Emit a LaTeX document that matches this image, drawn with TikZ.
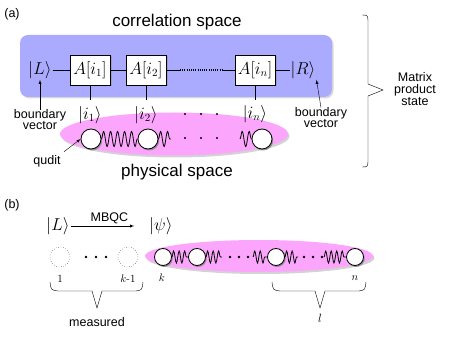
\documentclass[tikz,border=0pt]{standalone}
\usepackage[no-math]{fontspec}
\setsansfont{Liberation Sans}
\usepackage{amsmath,amssymb}
\usetikzlibrary{shadows,decorations.pathmorphing}

\definecolor{corrblue}{RGB}{170,170,255}
\definecolor{physpink}{RGB}{252,165,252}

\tikzset{
  lbl/.style={font=\sffamily\fontsize{12.5}{14}\selectfont, align=center},
  big/.style={font=\sffamily\fontsize{17}{20}\selectfont},
  ket/.style={font=\fontsize{16}{18}\selectfont, inner sep=1pt},
  mbox/.style={draw, fill=white, minimum width=40pt, minimum height=30pt, inner sep=1pt,
    font=\fontsize{16}{18}\selectfont, drop shadow={shadow xshift=1.5pt, shadow yshift=-1.5pt, opacity=0.35}},
  qudit/.style={draw, thick, circle, fill=white, minimum size=20pt, inner sep=0pt,
    drop shadow={shadow xshift=1.2pt, shadow yshift=-1.5pt, opacity=0.8}},
  qsmall/.style={qudit, minimum size=17pt},
  ghost/.style={draw, circle, dotted, minimum size=20pt, inner sep=0pt},
  wave/.style={decorate, thick, decoration={snake, amplitude=7.5pt, segment length=7pt}},
  swave/.style={wave, decoration={snake, amplitude=6pt, segment length=5.5pt}},
  idx/.style={font=\fontsize{11}{12}\selectfont, inner sep=0pt},
}

\begin{document}
\begin{tikzpicture}[x=1pt, y=-1pt, >=latex]
\useasboundingbox (0,0) rectangle (463,339);

% (a) correlation space
\node[lbl] at (12,14) {(a)};
\fill[corrblue, rounded corners=8pt, drop shadow={shadow xshift=1.5pt, shadow yshift=-1.5pt, opacity=0.3}] (20,35) rectangle (332,97);
\node[big] at (177,22) {correlation space};

\node[ket] (L) at (40,70) {$|L\rangle$};
\node[mbox] (A1) at (90,70) {$A[i_1]$};
\node[mbox] (A2) at (146,70) {$A[i_2]$};
\node[mbox] (An) at (255,70) {$A[i_n]$};
\node[ket] (R) at (303,70) {$|R\rangle$};
\coordinate (d1) at (180,70);
\coordinate (d2) at (223,70);

\draw (L) -- (A1);
\draw (A1) -- (A2);
\draw (A2) -- (d1);
\draw[line width=1.1pt, dash pattern=on 1pt off 1.2pt] (d1) -- (d2);
\draw (d2) -- (An);
\draw (An) -- (R);

% physical space
\fill[physpink, drop shadow={shadow xshift=1.5pt, shadow yshift=-2pt, opacity=0.35}] (174,134) ellipse (114 and 21.5);

% physical indices
\node[ket] (i1) at (90,115) {$|i_1\rangle$};
\node[ket] (i2) at (146,115) {$|i_2\rangle$};
\node[ket] (in) at (255,114) {$|i_n\rangle$};
\draw (A1.south) -- (A1.south |- 0,100);
\draw (A2.south) -- (A2.south |- 0,100);
\draw (An.south) -- (An.south |- 0,100);
\foreach \x in {185,201,217} {
    \fill (\x,114) circle (1.1);
}

% boundary vectors
\node[lbl, inner sep=0pt] (bvL) at (40,120) {boundary\\[-3pt]vector};
\node[lbl, inner sep=0pt] (bvR) at (321,118) {boundary\\[-3pt]vector};
\draw[->] (bvL.north) -- (L.south);
\draw[->] (bvR.north) -- (R.south east);

% qudits
\node[qudit] (q1) at (91,139) {};
\node[qudit] (q2) at (148,139) {};
\node[qudit] (qn) at (262,139) {};
\coordinate (w2) at (171,139);
\coordinate (wn) at (240,139);
\draw[wave] (q1.east) -- (q2.west);
\draw[wave] (q2.east) -- (w2);
\draw[wave] (wn) -- (qn.west);
\foreach \x in {185,201,217} {
    \fill (\x,138) circle (1.1);
}
\node[lbl] (qd) at (47,161) {qudit};
\draw[->] (qd.north east) -- (q1.west);
\node[big] at (177,172) {physical space};

% brace for MPS
\draw (362,15) .. controls (368,15) .. (368,24) -- (368,84) -- (383,90) -- (368,96) -- (368,158) .. controls (368,167) .. (362,167);
\node[lbl] at (415,89) {Matrix\\[-2pt]product\\[-2pt]state};

% (b) MBQC
\node[lbl] at (12,205) {(b)};
\node[ket] (Lb) at (58,226) {$|L\rangle$};
\node[ket] (psi) at (161,226) {$|\psi\rangle$};
\draw[->] (Lb) -- node[lbl, above, inner sep=2pt] {MBQC} (psi) [shorten >=14pt];

\node[ghost] (m1) at (60,257) {};
\node[ghost] (mk) at (128,257) {};
\foreach \x in {86,96,106} {
    \fill (\x,257) circle (1.4);
}

\fill[physpink, drop shadow={shadow xshift=1.5pt, shadow yshift=-2pt, opacity=0.35}] (259,256) ellipse (114 and 16);
\node[qsmall] (b1) at (163,257) {};
\node[qsmall] (b2) at (197,257) {};
\node[qsmall] (b3) at (276,257) {};
\node[qsmall] (b4) at (355,257) {};
\coordinate (v2) at (222,257);
\coordinate (v3) at (253,257);
\coordinate (v4) at (298,257);
\coordinate (v5) at (324,257);
\draw[swave] (b1.east) -- (b2.west);
\draw[swave] (b2.east) -- (v2);
\draw[swave] (v3) -- (b3.west);
\draw[swave] (b3.east) -- (v4);
\draw[swave] (v5) -- (b4.west);
\foreach \x in {230,239,248,304,313,322} {
    \fill (\x,257) circle (1.3);
}

% site labels
\node[idx] at (60,279) {$1$};
\node[idx] at (128,279) {$k$-$1$};
\node[idx] at (162,278) {$k$};
\node[idx] at (355,278) {$n$};

% lower braces
\draw (50,282) .. controls (51,290) .. (58,291) -- (92,291) -- (97,308) -- (102,291) -- (136,291) .. controls (142,290) .. (143,282);
\node[lbl] at (97,322) {measured};
\draw (272,282) .. controls (273,290) .. (280,291) -- (315,291) -- (320,308) -- (325,291) -- (359,291) .. controls (365,290) .. (366,282);
\node[idx, font=\fontsize{12}{13}\selectfont] at (320,318) {$l$};

\end{tikzpicture}
\end{document}
